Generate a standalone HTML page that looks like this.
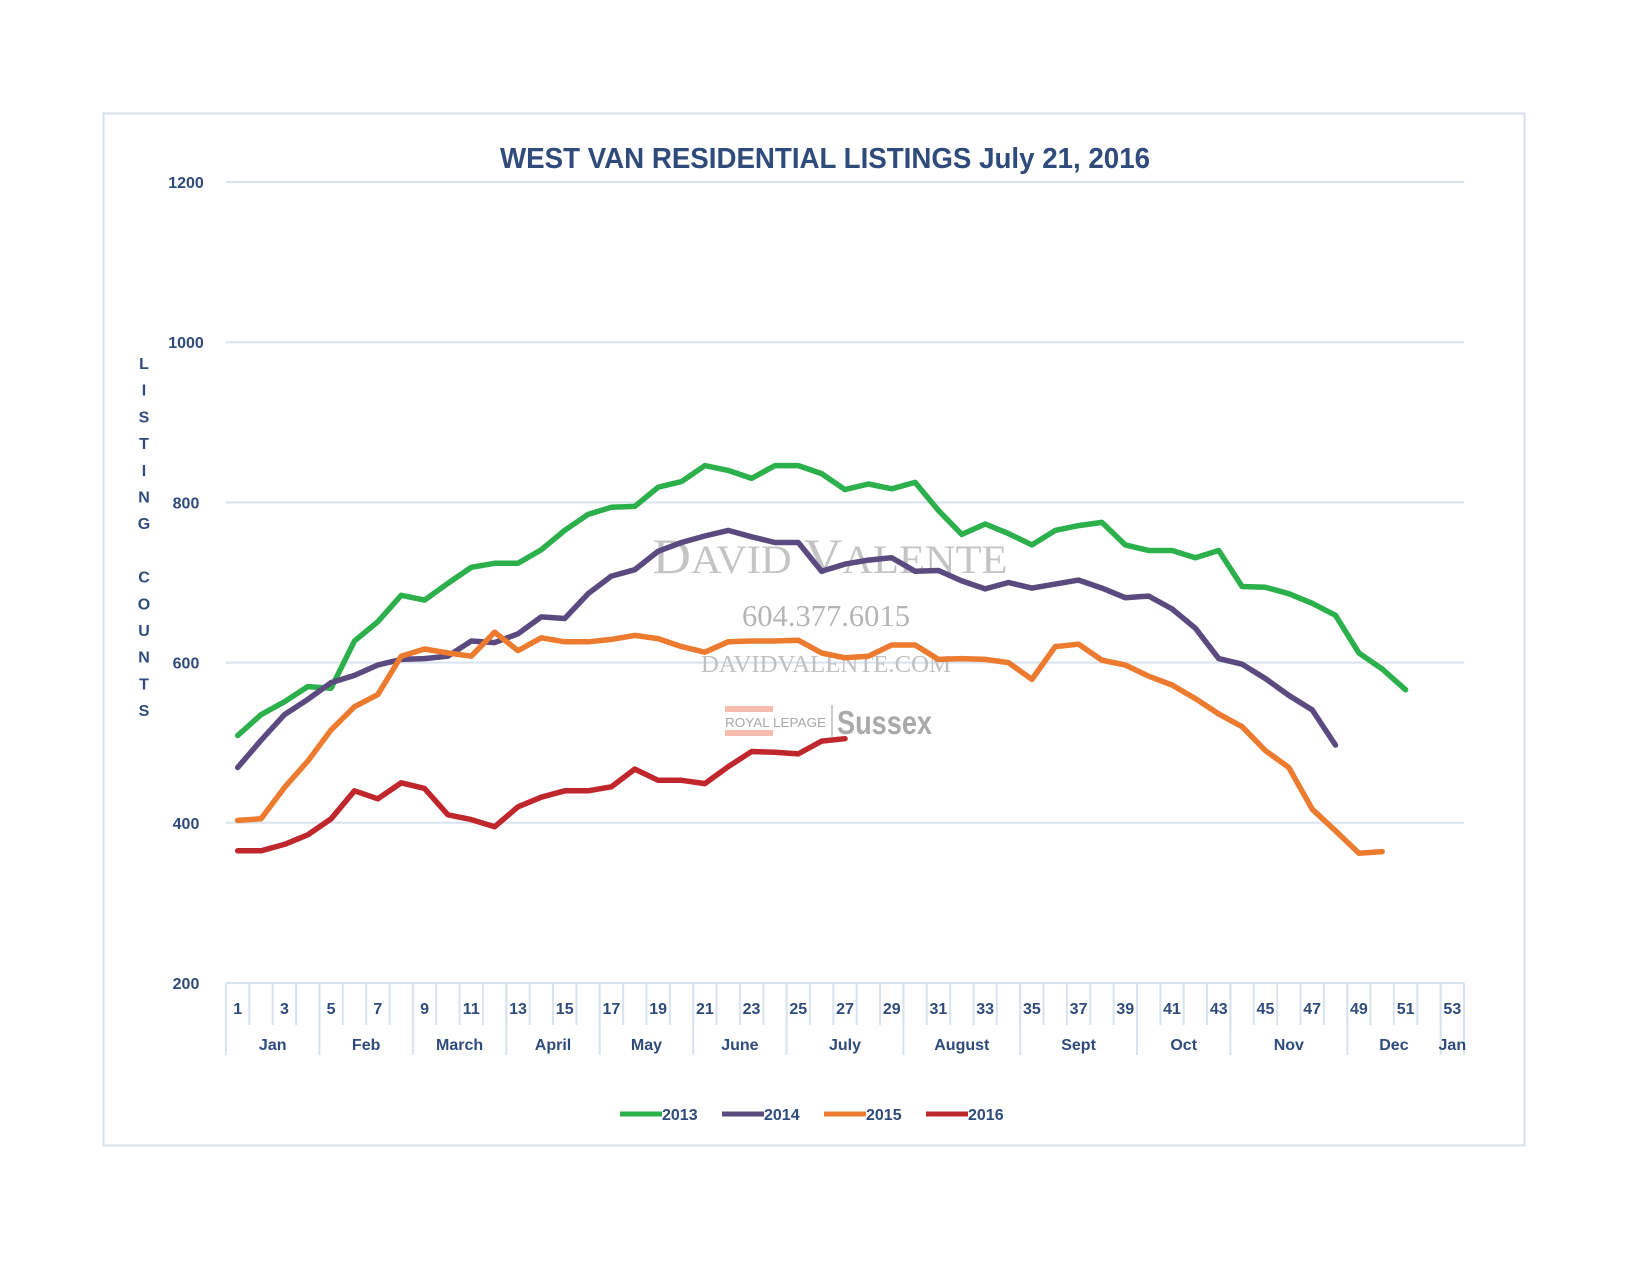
<!DOCTYPE html>
<html><head><meta charset="utf-8"><style>
html,body{margin:0;padding:0;background:#fff;}
svg{display:block;}
text{font-family:"Liberation Sans",sans-serif;}
</style></head><body>
<svg id="chart" width="1650" height="1275" viewBox="0 0 1650 1275" xmlns="http://www.w3.org/2000/svg">
<rect x="103.5" y="113.5" width="1421" height="1032" fill="#fff" stroke="#d6e2ee" stroke-width="2"/>
<text x="825" y="168" text-anchor="middle" font-size="29" font-weight="bold" fill="#2f4b7c" textLength="650" lengthAdjust="spacingAndGlyphs">WEST VAN RESIDENTIAL LISTINGS July 21, 2016</text>
<g id="grid"></g>
<g id="yticks"></g>
<g id="ytitle"></g>
<g id="xaxis"></g>
<g fill="#b9b9b9">
<text x="830" y="573" text-anchor="middle" style="font-family:'Liberation Serif',serif" font-size="50" fill="#c4c4c4" textLength="355" lengthAdjust="spacingAndGlyphs">D<tspan font-size="40">AVID</tspan> V<tspan font-size="40">ALENTE</tspan></text>
<text x="826" y="626" text-anchor="middle" style="font-family:'Liberation Serif',serif" font-size="31" fill="#b5b5b5" textLength="168" lengthAdjust="spacingAndGlyphs">604.377.6015</text>
<text x="826" y="672" text-anchor="middle" style="font-family:'Liberation Serif',serif" font-size="24" fill="#c0c0c0" textLength="250" lengthAdjust="spacingAndGlyphs">DAVIDVALENTE.COM</text>
<rect x="725" y="706" width="48" height="6" fill="#f6bcae"/>
<rect x="725" y="730" width="48" height="6" fill="#f6bcae"/>
<text x="725" y="727" font-size="13" fill="#a8a8a8" textLength="101" lengthAdjust="spacingAndGlyphs">ROYAL LEPAGE</text>
<line x1="832" y1="705" x2="832" y2="737" stroke="#bbb" stroke-width="1.5"/>
<text x="837" y="734" font-size="33" font-weight="bold" fill="#a9a9a9" textLength="95" lengthAdjust="spacingAndGlyphs">Sussex</text>
</g>
<g id="series"></g>
<g id="legend"></g>
</svg>
<script>
const weeks = Array.from({length:53},(_,i)=>i+1);
const yTicks = [200,400,600,800,1000,1200];
const months = ["Jan","Feb","March","April","May","June","July","August","Sept","Oct","Nov","Dec","Jan"];
const monthStartWeek = [1,5,9,13,17,21,25,30,35,40,44,49,53];
const monthEndWeek = [4,8,12,16,20,24,29,34,39,43,48,52,53];
const seriesNames = ["2013","2014","2015","2016"];
const data2013 = [509,535,551,570,568,627,651,684,678,699,719,724,724,741,765,785,794,795,819,826,846,840,830,846,846,836,816,823,817,825,790,760,773,761,747,765,771,775,747,740,740,731,740,695,694,686,674,659,612,592,566];
const data2014 = [469,503,535,554,575,584,597,604,605,608,627,625,636,657,655,686,708,716,739,750,758,765,757,750,750,714,723,728,731,714,715,702,692,700,693,698,703,693,681,683,667,643,605,598,580,559,541,497];
const data2015 = [403,405,444,477,516,545,560,608,617,612,608,638,615,631,626,626,629,634,630,620,613,626,627,627,628,612,606,608,622,622,604,605,604,600,579,620,623,603,597,583,572,555,536,520,490,469,417,390,362,364];
const data2016 = [365,365,373,385,405,440,430,450,443,410,404,395,420,432,440,440,445,467,453,453,449,470,489,488,486,502,505];
const seriesData = [data2013,data2014,data2015,data2016];
const colors = ["#2bb04c","#5b4a80","#ec7a2f","#c0272d"];

const NS="http://www.w3.org/2000/svg";
const X0=226, X1=1464, Y_TOP=182, Y_BOT=983, VMIN=200, VMAX=1200;
const bw=(X1-X0)/weeks.length;
function xPos(w){return X0+(w-0.5)*bw;}
function xEdge(w){return X0+(w-1)*bw;}
function yPos(v){return Y_BOT-(v-VMIN)/(VMAX-VMIN)*(Y_BOT-Y_TOP);}
function mk(tag,attrs,parent,txt){const e=document.createElementNS(NS,tag);for(const k in attrs)e.setAttribute(k,attrs[k]);if(txt!==undefined)e.textContent=txt;parent.appendChild(e);return e;}
const grid=document.getElementById('grid'), yt=document.getElementById('yticks');
yTicks.forEach(v=>{
  if(v>VMIN){const l=mk('line',{x1:X0,x2:X1,y1:yPos(v),y2:yPos(v),stroke:'#d9e3f0','stroke-width':2},grid);
  
  }
  const t=mk('text',{x:186,y:yPos(v)+6,'text-anchor':'middle','font-size':16,'font-weight':'bold',fill:'#2f4b7c'},yt,String(v));
  
  
});
const ytg=document.getElementById('ytitle');
"LISTING COUNTS".split('').forEach((c,i)=>{
  if(c===' ')return;
  const t=mk('text',{x:144,y:369+i*26.7,'text-anchor':'middle','font-size':16,'font-weight':'bold',fill:'#2f4b7c'},ytg,c);
  
  
});
const xa=document.getElementById('xaxis');
mk('line',{x1:X0,x2:X1,y1:Y_BOT,y2:Y_BOT,stroke:'#d9e3f0','stroke-width':2},xa);
weeks.forEach(w=>{
  mk('line',{x1:xEdge(w),x2:xEdge(w),y1:Y_BOT,y2:Y_BOT+42,stroke:'#d9e3f0','stroke-width':2},xa);
  if(w%2===1){const t=mk('text',{x:xPos(w),y:Y_BOT+31,'text-anchor':'middle','font-size':16,'font-weight':'bold',fill:'#2f4b7c'},xa,String(w));
  
  }
});
mk('line',{x1:X1,x2:X1,y1:Y_BOT,y2:Y_BOT+72,stroke:'#d9e3f0','stroke-width':2},xa);
months.forEach((m,i)=>{
  const s=monthStartWeek[i], e=monthEndWeek[i];
  mk('line',{x1:xEdge(s),x2:xEdge(s),y1:Y_BOT,y2:Y_BOT+72,stroke:'#d9e3f0','stroke-width':2},xa);
  const t=mk('text',{x:(xEdge(s)+xEdge(e+1))/2,y:Y_BOT+67,'text-anchor':'middle','font-size':16,'font-weight':'bold',fill:'#2f4b7c'},xa,m);
  
  
});
const sg=document.getElementById('series');
seriesData.forEach((d,si)=>{
  const pts=d.map((v,i)=>xPos(weeks[i]).toFixed(1)+','+yPos(v).toFixed(1)).join(' ');
  const p=mk('polyline',{points:pts,fill:'none',stroke:colors[si],'stroke-width':5.5,'stroke-linejoin':'round','stroke-linecap':'round'},sg);
  
  
});
const lg=document.getElementById('legend');
const legX=[620,722,824,926];
seriesNames.forEach((n,i)=>{
  const g=mk('g',{},lg);
  
  
  mk('line',{x1:legX[i],x2:legX[i]+42,y1:1114,y2:1114,stroke:colors[i],'stroke-width':5},g);
  mk('text',{x:legX[i]+42,y:1120,'font-size':16,'font-weight':'bold',fill:'#2f4b7c'},g,n);
});
</script>
</body></html>
